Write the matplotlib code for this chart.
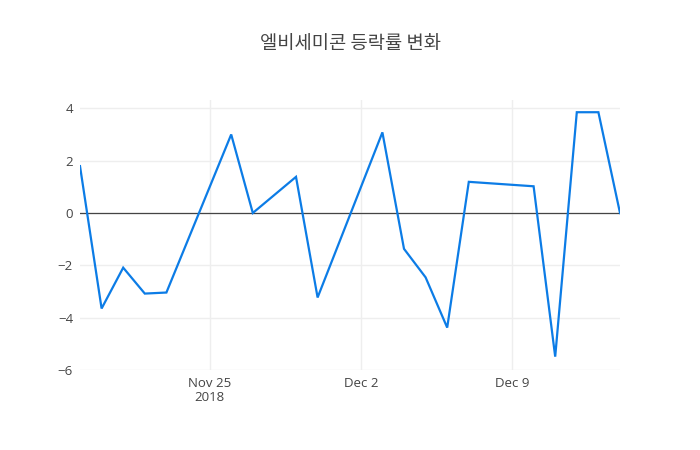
import numpy as np
import matplotlib.pyplot as plt

# daily change rate (%)
dates = ["2018-11-19", "2018-11-20", "2018-11-21", "2018-11-22", "2018-11-23",
         "2018-11-26", "2018-11-27", "2018-11-29", "2018-11-30",
         "2018-12-03", "2018-12-04", "2018-12-05", "2018-12-06", "2018-12-07",
         "2018-12-10", "2018-12-11", "2018-12-12", "2018-12-13", "2018-12-14"]
rates = [1.79, -3.65, -2.09, -3.08, -3.04,
         3.0, 0.0, 1.38, -3.23,
         3.08, -1.37, -2.46, -4.38, 1.19,
         1.02, -5.49, 3.85, 3.85, 0.0]
title = "엘비세미콘 등락률 변화"
xtick_dates = ["2018-11-25", "2018-12-02", "2018-12-09"]
xtick_labels = ["Nov 25\n2018", "Dec 2", "Dec 9"]

x = np.array(dates, dtype="datetime64[D]")
y = np.array(rates)

plt.rcParams['font.family'] = ['Open Sans', 'Noto Sans CJK KR', 'DejaVu Sans']

fig = plt.figure(figsize=(7, 4.5), dpi=100)
ax = fig.add_axes([80 / 700, 80 / 450, 540 / 700, 270 / 450])

ax.plot(x, y, color="#0c7ce6", lw=1.6, solid_joinstyle="miter", zorder=3)
ax.axhline(0, color="#444444", lw=0.9, zorder=2)

ax.set_xlim(x[0], x[-1])
pad = (y.max() - y.min()) * 0.05
ax.set_ylim(y.min() - pad, y.max() + pad)

ax.set_xticks(np.array(xtick_dates, dtype="datetime64[D]"))
ax.set_xticklabels(xtick_labels, linespacing=1.1)
ax.set_yticks([-6, -4, -2, 0, 2, 4])
ax.set_yticklabels(["\u22126", "\u22124", "\u22122", "0", "2", "4"])

ax.grid(True, color="#eeeeee", lw=1, zorder=0)
for s in ax.spines.values():
    s.set_visible(False)
ax.tick_params(length=0, labelsize=9.5, colors="#444444", pad=5)

fig.text(0.5, 1 - 44 / 450, title, ha="center", va="center", fontsize=13.5,
         color="#444444", family=['Noto Sans CJK KR', 'DejaVu Sans'])

fig.savefig("out.png", dpi=100)
